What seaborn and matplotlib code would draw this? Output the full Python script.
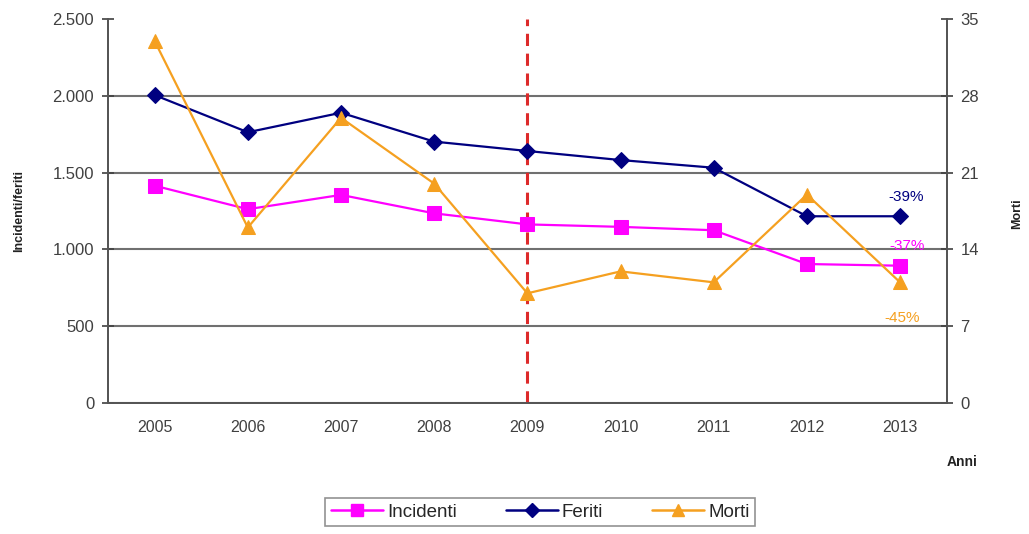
import numpy as np
import pandas as pd
import matplotlib.pyplot as plt
import seaborn as sns
from matplotlib.ticker import FixedLocator, FuncFormatter
from matplotlib.lines import Line2D

sns.set_style("white")
plt.rcParams['font.family'] = ['Liberation Sans', 'DejaVu Sans']

# dati
anni = [2005, 2006, 2007, 2008, 2009, 2010, 2011, 2012, 2013]
incidenti = [1415, 1262, 1355, 1235, 1163, 1147, 1125, 905, 894]
feriti = [2005, 1763, 1890, 1702, 1641, 1582, 1532, 1216, 1216]
morti = [33, 16, 26, 20, 10, 12, 11, 19, 11]
variazioni = ['-37%', '-39%', '-45%']

df = pd.DataFrame({'Anno': anni, 'Incidenti': incidenti, 'Feriti': feriti, 'Morti': morti})

col_inc = '#ff00ff'
col_fer = '#000080'
col_mor = '#f5a020'
grigio = '#404040'

fig = plt.figure(figsize=(10.29, 5.34), dpi=100)
ax = fig.add_axes([0.105, 0.2453, 0.815, 0.719])
ax2 = ax.twinx()

sns.lineplot(data=df, x='Anno', y='Incidenti', ax=ax, color=col_inc, marker='s',
             markersize=10, markeredgecolor=col_inc, linewidth=1.6, zorder=4)
sns.lineplot(data=df, x='Anno', y='Feriti', ax=ax, color=col_fer, marker='D',
             markersize=8, markeredgecolor=col_fer, linewidth=1.6, zorder=4)
sns.lineplot(data=df, x='Anno', y='Morti', ax=ax2, color=col_mor, marker='^',
             markersize=10, markeredgecolor=col_mor, linewidth=1.6, zorder=4)

# asse sinistro
ax.set_xlim(anni[0] - 0.5, anni[-1] + 0.5)
ax.set_ylim(0, 2500)
ax.set_yticks([0, 500, 1000, 1500, 2000, 2500])
ax.yaxis.set_major_formatter(FuncFormatter(lambda v, p: f"{int(v):,}".replace(',', '.')))
ax2.set_ylim(0, 35)
ax2.set_yticks([0, 7, 14, 21, 28, 35])

ax.set_xticks(anni)
ax.set_xticklabels([str(a) for a in anni])
ax.xaxis.set_minor_locator(FixedLocator([a - 0.5 for a in anni] + [anni[-1] + 0.5]))
ax.tick_params(axis='x', which='major', length=0, pad=12, labelsize=11.5, labelcolor=grigio)
ax.tick_params(axis='x', which='minor', length=8, width=1.2, direction='inout', color=grigio)
ax.tick_params(axis='y', length=8, width=1.2, direction='inout', color=grigio,
               labelsize=12, labelcolor=grigio, pad=6)
ax2.tick_params(axis='y', length=8, width=1.2, direction='inout', color=grigio,
                labelsize=12, labelcolor=grigio, pad=6)

ax.yaxis.grid(True, color='#707070', linewidth=1.5)
ax.set_axisbelow(True)
ax.get_ygridlines()[-1].set_visible(False)

for a in (ax, ax2):
    a.spines['top'].set_visible(False)
    for s in ('left', 'right', 'bottom'):
        a.spines[s].set_color('#555555')
        a.spines[s].set_linewidth(1.3)

ax.set_xlabel('')
ax.set_ylabel('Incidenti/feriti', fontsize=9, fontweight='bold', color='#222222', labelpad=20)
ax2.set_ylabel('')
fig.text(0.988, 0.6, 'Morti', fontsize=9, fontweight='bold', color='#222222',
         rotation=90, ha='center', va='center')
fig.text(0.935, 0.128, 'Anni', fontsize=10, fontweight='bold', color='#222222', ha='center')

# linea di riferimento 2009
ax.axvline(2009, color='#dd2a2a', linestyle=(0, (4, 2.5)), linewidth=2.2, zorder=3)

# variazioni percentuali
ax.text(anni[-1] + 0.07, 1315, variazioni[1], color=col_fer, fontsize=11, ha='center')
ax.text(anni[-1] + 0.07, 995, variazioni[0], color=col_inc, fontsize=11, ha='center')
ax.text(anni[-1] + 0.02, 525, variazioni[2], color=col_mor, fontsize=11, ha='center')

# legenda
handles = [
    Line2D([], [], color=col_inc, marker='s', markersize=9, linewidth=1.8),
    Line2D([], [], color=col_fer, marker='D', markersize=7, linewidth=1.8),
    Line2D([], [], color=col_mor, marker='^', markersize=9, linewidth=1.8),
]
leg = fig.legend(handles, ['Incidenti', 'Feriti', 'Morti'], loc='center',
                 bbox_to_anchor=(0.525, 0.041), ncol=3, fontsize=13.5, frameon=True,
                 fancybox=False, edgecolor='#777777', handlelength=2.8,
                 columnspacing=2.6, handletextpad=0.2, borderpad=0.3)
leg.get_frame().set_linewidth(1.2)
ax.legend_ = None
ax2.legend_ = None

fig.savefig('out.png', dpi=100)
